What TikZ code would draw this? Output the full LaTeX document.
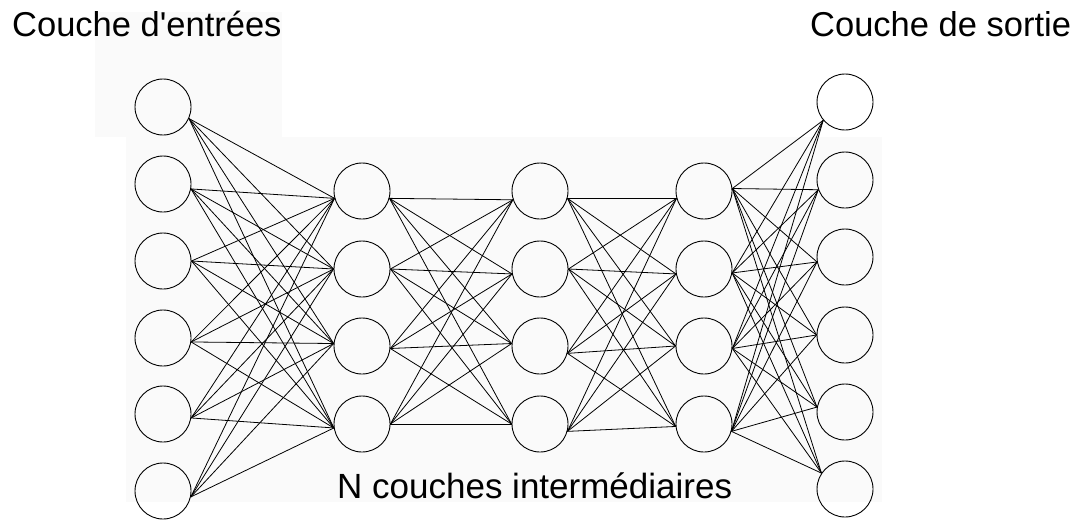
\documentclass[tikz,border=0pt]{standalone}
\usepackage{fontspec}
\setmainfont{Liberation Sans}[Ligatures=TeXOff]
\begin{document}
\begin{tikzpicture}[x=1pt,y=-1pt,
  neuron/.style={circle,draw=black,line width=0.9pt,minimum size=56pt,inner sep=0pt},
  link/.style={draw=black,line width=0.8pt},
  title/.style={inner sep=0pt,font=\fontsize{34.5}{40}\selectfont},
  subtitle/.style={inner sep=0pt,font=\fontsize{35}{42}\selectfont},
  backdrop/.style={fill=black!2,draw=none}]
\useasboundingbox (0,0) rectangle (1078,519);

% faint backdrop panels
\fill[backdrop] (95,12) rectangle (282,137);
\fill[backdrop] (126,137) rectangle (882,502);

% input layer
\foreach \i/\y in {1/107,2/184,3/261,4/338,5/414,6/491}
  \node[neuron] (in\i) at (163,\y) {};
% hidden layers
\foreach \i/\y in {1/191,2/269,3/346,4/424}{
  \node[neuron] (ha\i) at (362,\y) {};
  \node[neuron] (hb\i) at (540,\y) {};
  \node[neuron] (hc\i) at (704,\y) {};
}
% output layer
\foreach \i/\y in {1/102,2/180,3/257,4/335,5/412,6/489}
  \node[neuron] (out\i) at (845,\y) {};

% input -> first hidden layer
\foreach \i/\a in {1/-24,2/-10,3/0,4/-8,5/-8,6/-12}
  \foreach \j/\b in {1/195,2/180,3/175,4/188}
    \draw[link] (in\i.\a) -- (ha\j.\b);
% first -> second hidden layer
\foreach \i/\a in {1/-15,2/0,3/-5,4/0}
  \foreach \j/\b in {1/198,2/190,3/175,4/180}
    \draw[link] (ha\i.\a) -- (hb\j.\b);
% second -> third hidden layer
\foreach \i/\a in {1/-15,2/0,3/-15,4/-15}
  \foreach \j/\b in {1/195,2/190,3/180,4/185}
    \draw[link] (hb\i.\a) -- (hc\j.\b);
% third hidden layer -> output
\foreach \i/\a in {1/5,2/-8,3/-5,4/-15}
  \foreach \j/\b in {1/220,2/200,3/190,4/180,5/170,6/146}
    \draw[link] (hc\i.\a) -- (out\j.\b);

% captions
\node[title,anchor=base west] (tin) at (12,37) {Couche d'entrées};
\node[title,anchor=base west] (tout) at (810,37) {Couche de sortie};
\node[subtitle,anchor=base west] (tmid) at (337,498) {N couches intermédiaires};
\end{tikzpicture}
\end{document}
